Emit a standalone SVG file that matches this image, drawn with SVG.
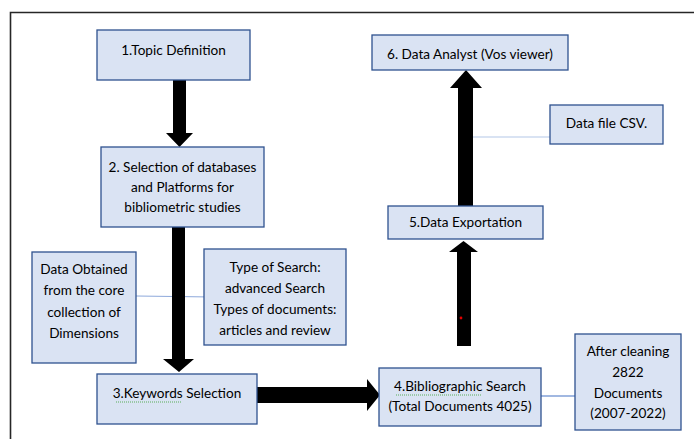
<svg xmlns="http://www.w3.org/2000/svg" width="694" height="439" viewBox="0 0 694 439">
  <style>
    .box { fill: #DAE3F3; stroke: #2F528F; stroke-width: 1.3; }
    .lbl { font-family: Lato, "Open Sans", "Liberation Sans", sans-serif; font-size: 13.6px; fill: #000; text-anchor: middle; }
    .arrow { fill: #000; }
    .link { fill: none; stroke-width: 1.1; }
    .squiggle { fill: none; stroke: #5AAE5A; stroke-width: 1; stroke-dasharray: 1 1; }
  </style>

  <rect width="694" height="439" fill="#fff"/>
  <!-- page frame -->
  <path d="M10.5,439 V12.5 H694" fill="none" stroke="#262626" stroke-width="1.6"/>

  <g id="connectors">
    <!-- thin side links -->
    <line class="link" x1="136" y1="296" x2="213" y2="297" stroke="#8EA9DB"/>
    <line class="link" x1="473" y1="137" x2="550" y2="137" stroke="#B4C7E7"/>
    <line class="link" x1="541" y1="396" x2="575" y2="396" stroke="#4472C4"/>
    <!-- block arrows -->
    <polygon class="arrow" points="173,80 186,80 186,133 193,133 179.5,147 166,133 173,133"/>
    <polygon class="arrow" points="172,227 185,227 185,359 194,359 179,372 163,359 172,359"/>
    <polygon class="arrow" points="257,387 367,387 367,379 380,395 367,411 367,403 257,403"/>
    <polygon class="arrow" points="457,346 471,346 471,252 478,252 463.5,241 449,252 457,252"/>
    <polygon class="arrow" points="458,206 473,206 473,88 482,88 466,70 450,88 458,88"/>
    <circle cx="461" cy="318" r="1.4" fill="#E00000"/>
  </g>

  <g id="topic-definition">
    <rect class="box" x="97" y="30" width="153" height="50"/>
    <text class="lbl" x="173.5" y="55">1.Topic Definition</text>
  </g>

  <g id="database-selection">
    <rect class="box" x="101" y="147" width="163" height="80"/>
    <text class="lbl" x="182.5" y="172">2. Selection of databases</text>
    <text class="lbl" x="182.5" y="192">and Platforms for</text>
    <text class="lbl" x="182.5" y="212">bibliometric studies</text>
  </g>

  <g id="data-source">
    <rect class="box" x="32" y="252" width="104" height="111"/>
    <text class="lbl" x="84" y="274">Data Obtained</text>
    <text class="lbl" x="84" y="295">from the core</text>
    <text class="lbl" x="84" y="317">collection of</text>
    <text class="lbl" x="84" y="338">Dimensions</text>
  </g>

  <g id="search-type">
    <rect class="box" x="204" y="249" width="142" height="96"/>
    <text class="lbl" x="275" y="272">Type of Search:</text>
    <text class="lbl" x="275" y="293">advanced Search</text>
    <text class="lbl" x="275" y="314">Types of documents:</text>
    <text class="lbl" x="275" y="335">articles and review</text>
  </g>

  <g id="keywords-selection">
    <rect class="box" x="97" y="374" width="160" height="50"/>
    <text class="lbl" x="177" y="398">3.Keywords Selection</text>
    <path class="squiggle" d="M116,402 H182"/>
  </g>

  <g id="bibliographic-search">
    <rect class="box" x="379" y="368" width="162" height="58"/>
    <text class="lbl" x="460" y="391">4.Bibliographic Search</text>
    <text class="lbl" x="460" y="411">(Total Documents 4025)</text>
    <path class="squiggle" d="M396,395 H482"/>
  </g>

  <g id="after-cleaning">
    <rect class="box" x="575" y="334" width="106" height="96"/>
    <text class="lbl" x="628" y="356">After cleaning</text>
    <text class="lbl" x="628" y="377">2822</text>
    <text class="lbl" x="628" y="398">Documents</text>
    <text class="lbl" x="628" y="418">(2007-2022)</text>
  </g>

  <g id="data-exportation">
    <rect class="box" x="388" y="206" width="155" height="33"/>
    <text class="lbl" x="465.5" y="227">5.Data Exportation</text>
  </g>

  <g id="data-file-csv">
    <rect class="box" x="550" y="105" width="113" height="39"/>
    <text class="lbl" x="606.5" y="128">Data file CSV.</text>
  </g>

  <g id="data-analyst">
    <rect class="box" x="372" y="35" width="196" height="35"/>
    <text class="lbl" x="470" y="59">6. Data Analyst (Vos viewer)</text>
  </g>
</svg>
